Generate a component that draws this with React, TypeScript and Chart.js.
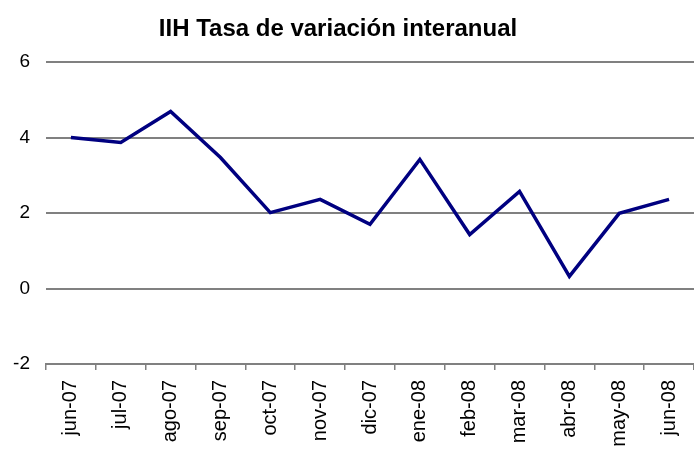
import React, { useEffect, useRef } from "react";
import { Chart, registerables } from "chart.js";

Chart.register(...registerables);

const TITLE = "IIH Tasa de variación interanual";
const categories = [
  "jun-07", "jul-07", "ago-07", "sep-07", "oct-07", "nov-07", "dic-07",
  "ene-08", "feb-08", "mar-08", "abr-08", "may-08", "jun-08",
];
const values = [4.0, 3.87, 4.69, 3.47, 2.01, 2.36, 1.7, 3.42, 1.43, 2.57, 0.32, 1.99, 2.36];
const yMin = -2;
const yMax = 6;
const yStep = 2;

const FONT = "'Liberation Sans', Arial, sans-serif";

const titlePlugin = {
  id: "customTitle",
  afterDraw(chart: any) {
    const ctx = chart.ctx;
    ctx.save();
    ctx.font = `bold 24px ${FONT}`;
    ctx.fillStyle = "#000";
    ctx.textAlign = "center";
    ctx.textBaseline = "alphabetic";
    ctx.fillText(TITLE, 338, 36);
    ctx.restore();
  },
};

export default function App() {
  const ref = useRef<HTMLCanvasElement>(null);
  useEffect(() => {
    document.body.style.margin = "0";
    const chart = new Chart(ref.current!, {
      type: "line",
      data: {
        labels: categories,
        datasets: [
          {
            data: values,
            borderColor: "#000080",
            borderWidth: 3.5,
            pointRadius: 0,
            tension: 0,
            fill: false,
          },
        ],
      },
      options: {
        responsive: false,
        animation: false,
        layout: { padding: { top: 62, right: 0, left: 0, bottom: 0 } },
        plugins: { legend: { display: false }, title: { display: false }, tooltip: { enabled: false } },
        scales: {
          x: {
            type: "category",
            offset: true,
            grid: {
              display: true,
              drawOnChartArea: false,
              drawTicks: true,
              tickLength: 6,
              offset: true,
              color: "#808080",
              lineWidth: 1.5,
            },
            border: { display: true, color: "#808080", width: 2 },
            ticks: {
              autoSkip: false,
              maxRotation: 90,
              minRotation: 90,
              padding: 10,
              color: "#000",
              font: { family: FONT, size: 20 },
            },
            afterFit(scale: any) {
              scale.height = 85;
              scale.paddingLeft = 0;
              scale.paddingRight = 0;
            },
          },
          y: {
            min: yMin,
            max: yMax,
            grid: { color: "#808080", lineWidth: 2, drawTicks: false },
            border: { display: false },
            ticks: {
              stepSize: yStep,
              padding: 16,
              color: "#000",
              font: { family: FONT, size: 19 },
            },
            afterFit(scale: any) {
              scale.width = 46;
            },
          },
        },
      },
      plugins: [titlePlugin],
    });
    return () => chart.destroy();
  }, []);
  return (
    <div style={{ width: 694, height: 449 }}>
      <canvas ref={ref} width={694} height={449} />
    </div>
  );
}
